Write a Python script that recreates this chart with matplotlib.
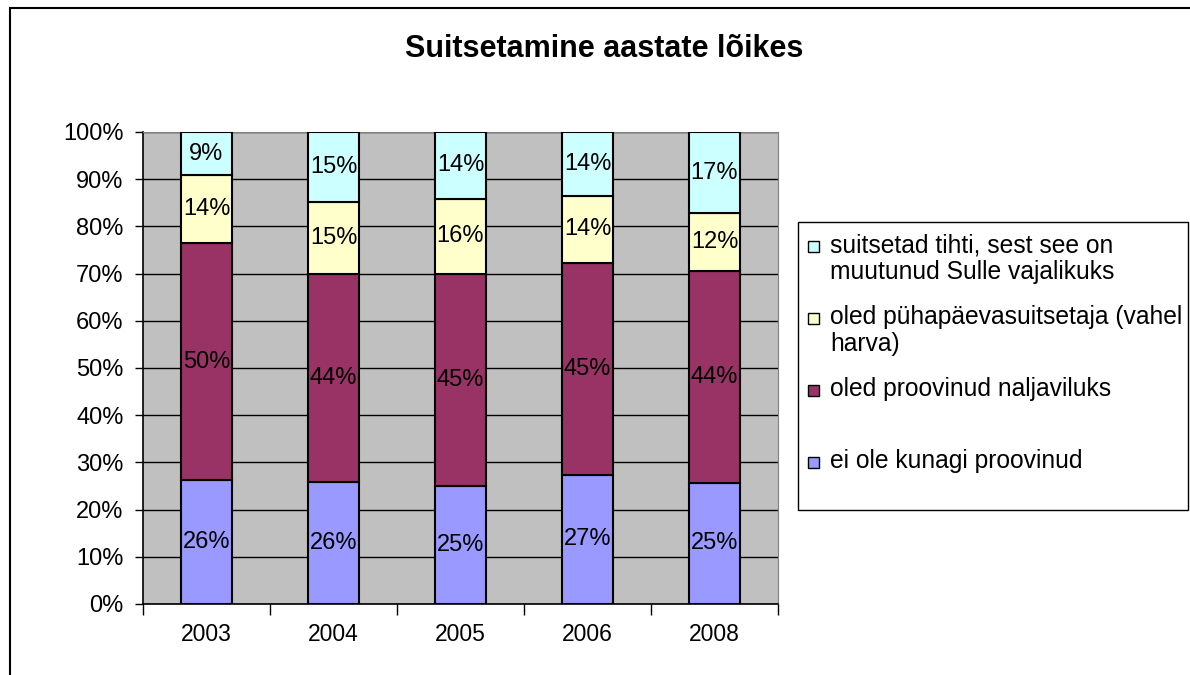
import numpy as np
import matplotlib.pyplot as plt
from matplotlib.patches import Rectangle

plt.rcParams['font.family'] = ['Liberation Sans', 'DejaVu Sans']

years = ['2003', '2004', '2005', '2006', '2008']
series = ['ei ole kunagi proovinud', 'oled proovinud naljaviluks',
          'oled pühapäevasuitsetaja (vahel\nharva)',
          'suitsetad tihti, sest see on\nmuutunud Sulle vajalikuks']
never = [26.2, 25.8, 25.0, 27.4, 25.4]
tried = [50.2, 44.2, 45.0, 44.9, 44.4]
sunday = [14.3, 15.2, 15.9, 14.1, 12.0]
often = [9.2, 14.8, 14.1, 13.6, 17.0]
colors = ['#9999FF', '#993366', '#FFFFCC', '#CCFFFF']

raw = np.array([never, tried, sunday, often])
share = raw / raw.sum(axis=0) * 100  # 100% stacked, like Excel

fig = plt.figure(figsize=(11.9, 6.75), dpi=100)
ax = fig.add_axes([143 / 1190, 1 - 604 / 675, 635 / 1190, 472 / 675])
ax.set_facecolor('#C0C0C0')

x = np.arange(len(years))
bottom = np.zeros(len(years))
for i in range(len(series)):
    ax.bar(x, share[i], 0.4, bottom=bottom, color=colors[i],
           edgecolor='black', linewidth=1.5, zorder=3)
    for j in range(len(years)):
        ax.text(x[j], bottom[j] + share[i][j] / 2, f'{raw[i][j]:.0f}%',
                ha='center', va='center', fontsize=17, zorder=4)
    bottom += share[i]

ax.set_xlim(-0.5, len(years) - 0.5)
ax.set_ylim(0, 100)
ax.set_yticks(np.arange(0, 101, 10))
ax.set_yticklabels([f'{v}%' for v in range(0, 101, 10)], fontsize=17)
ax.yaxis.grid(True, color='black', linewidth=1)
ax.set_axisbelow(True)
ax.set_xticks(x)
ax.set_xticklabels(years, fontsize=16.5)
ax.set_xticks(np.arange(-0.5, len(years)), minor=True)
ax.tick_params(axis='x', which='major', length=0, pad=14)
ax.tick_params(axis='x', which='minor', length=8, width=1, direction='out')
ax.tick_params(axis='y', length=6, width=1, direction='out', pad=8)
for s in ['top', 'right']:
    ax.spines[s].set_color('#808080')
for s in ['left', 'bottom']:
    ax.spines[s].set_color('black')
    ax.spines[s].set_linewidth(1.2)

fig.text(604 / 1190, 1 - 49 / 675, 'Suitsetamine aastate lõikes',
         ha='center', va='center', fontsize=22, fontweight='bold')

# chart frame (only top and left edges visible)
fig.patches.append(Rectangle((10 / 1190, -0.2), 1.5, 1.2 - 8 / 675,
                             transform=fig.transFigure, fill=False,
                             edgecolor='black', linewidth=1.5))

# legend box
fig.patches.append(Rectangle((798 / 1190, 1 - 510 / 675), 390 / 1190, 288 / 675,
                             transform=fig.transFigure, facecolor='white',
                             edgecolor='black', linewidth=1))
for k, i in enumerate(range(len(series) - 1, -1, -1)):
    yc = 247 + 72 * k
    fig.patches.append(Rectangle((808 / 1190, 1 - (yc + 5) / 675), 11 / 1190, 11 / 675,
                                 transform=fig.transFigure, facecolor=colors[i],
                                 edgecolor='black', linewidth=1))
    fig.text(830 / 1190, 1 - (yc - 14) / 675, series[i], ha='left', va='top',
             fontsize=17.7, linespacing=1.15)

fig.savefig('out.png', dpi=100)
